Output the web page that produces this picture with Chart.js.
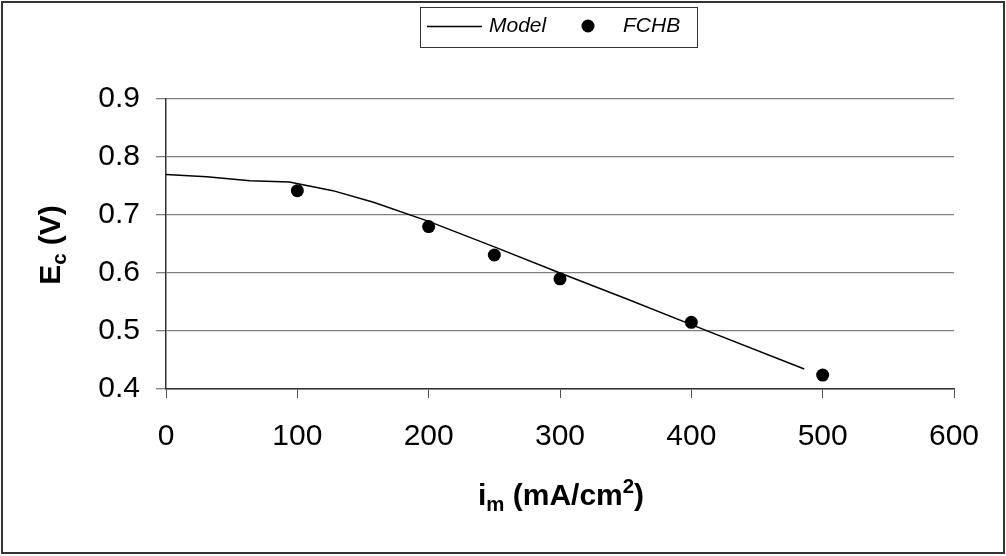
<!DOCTYPE html>
<html>
<head>
<meta charset="utf-8">
<title>Ec vs im</title>
<script src="https://cdn.jsdelivr.net/npm/chart.js@4/dist/chart.umd.min.js"></script>
<style>
  html, body { margin: 0; padding: 0; background: #fff; }
  #wrap { position: relative; width: 1006px; height: 556px; }
  canvas { display: block; }
</style>
</head>
<body>
<div id="wrap"><canvas id="c" width="1006" height="556"></canvas></div>
<script>
// Model curve (current density in mA/cm2, cell voltage in V)
const modelX = [0, 31, 64, 94, 127, 158, 200, 250, 300, 350, 400, 486];
const modelY = [0.770, 0.766, 0.759, 0.757, 0.742, 0.722, 0.689, 0.645, 0.600, 0.556, 0.511, 0.4345];

// Measured FCHB points
const fchbX = [100, 200, 250, 300, 400, 500];
const fchbY = [0.742, 0.680, 0.631, 0.590, 0.515, 0.424];

// Axis ranges and ticks
const xTicks = [0, 100, 200, 300, 400, 500, 600];
const yTicks = [0.4, 0.5, 0.6, 0.7, 0.8, 0.9];

const FONT = '"Liberation Sans", Arial, Helvetica, sans-serif';

const toPoints = (xs, ys) => xs.map((x, i) => ({ x: x, y: ys[i] }));

// Draws a run of bold text pieces with optional sub/superscripts, centred horizontally on 0,
// with the main baseline at y = 0
function drawRich(ctx, parts, size) {
  const pieces = parts.map(p => {
    const s = p.sub || p.sup ? size * 0.68 : size;
    ctx.font = 'bold ' + s + 'px ' + FONT;
    return { t: p.t, s: s, w: ctx.measureText(p.t).width, dy: p.sub ? size * 0.2 : (p.sup ? -size * 0.4 : 0) };
  });
  const total = pieces.reduce((a, p) => a + p.w, 0);
  let x = -total / 2;
  ctx.textBaseline = 'alphabetic';
  ctx.textAlign = 'left';
  pieces.forEach(p => {
    ctx.font = 'bold ' + p.s + 'px ' + FONT;
    ctx.fillText(p.t, x, p.dy);
    x += p.w;
  });
}

const decorations = {
  id: 'decorations',
  afterDraw(chart) {
    const ctx = chart.ctx;
    ctx.save();
    // outer frame
    ctx.strokeStyle = '#333';
    ctx.lineWidth = 2;
    ctx.strokeRect(2, 2, 1002, 551);

    // axis titles
    ctx.fillStyle = '#000';
    ctx.save();
    ctx.translate(561, 505);
    drawRich(ctx, [{ t: 'i' }, { t: 'm', sub: true }, { t: ' (mA/cm' }, { t: '2', sup: true }, { t: ')' }], 30);
    ctx.restore();

    ctx.save();
    ctx.translate(60, 245);
    ctx.rotate(-Math.PI / 2);
    drawRich(ctx, [{ t: 'E' }, { t: 'c', sub: true }, { t: ' (V)' }], 30);
    ctx.restore();

    // legend box
    const ds = chart.data.datasets;
    ctx.lineWidth = 1;
    ctx.strokeStyle = '#333';
    ctx.strokeRect(420.5, 7.5, 277, 40);
    ctx.beginPath();
    ctx.moveTo(427, 26.5);
    ctx.lineTo(482, 26.5);
    ctx.strokeStyle = '#000';
    ctx.lineWidth = 1.5;
    ctx.stroke();
    ctx.font = 'italic 21px ' + FONT;
    ctx.textBaseline = 'middle';
    ctx.textAlign = 'left';
    ctx.fillText(ds[0].label, 489, 26);
    ctx.beginPath();
    ctx.arc(588, 26, 6.5, 0, Math.PI * 2);
    ctx.fill();
    ctx.fillText(ds[1].label, 623, 26);
    ctx.restore();
  }
};

new Chart(document.getElementById('c'), {
  type: 'scatter',
  data: {
    datasets: [
      {
        label: 'Model',
        data: toPoints(modelX, modelY),
        showLine: true,
        borderColor: '#000',
        borderWidth: 1.5,
        pointRadius: 0,
        tension: 0,
        order: 2
      },
      {
        label: 'FCHB',
        data: toPoints(fchbX, fchbY),
        showLine: false,
        backgroundColor: '#000',
        borderColor: '#000',
        pointRadius: 6.5,
        pointBorderWidth: 0,
        order: 1
      }
    ]
  },
  options: {
    responsive: false,
    animation: false,
    devicePixelRatio: 1,
    layout: { padding: { left: 0, right: 52, top: 99, bottom: 0 } },
    plugins: { legend: { display: false }, tooltip: { enabled: false } },
    scales: {
      x: {
        type: 'linear',
        min: xTicks[0],
        max: xTicks[xTicks.length - 1],
        afterBuildTicks: s => { s.ticks = xTicks.map(v => ({ value: v })); },
        afterFit: s => { s.height = 167; },
        grid: { drawOnChartArea: false, drawTicks: true, tickLength: 9, tickColor: '#555', lineWidth: 1 },
        border: { color: '#333', width: 1.5 },
        ticks: { color: '#000', font: { family: FONT, size: 30 }, padding: 21, maxRotation: 0 }
      },
      y: {
        type: 'linear',
        min: yTicks[0],
        max: yTicks[yTicks.length - 1],
        afterBuildTicks: s => { s.ticks = yTicks.map(v => ({ value: v })); },
        afterFit: s => { s.width = 166; },
        grid: { color: '#808080', tickColor: '#808080', tickLength: 10, lineWidth: 1.3 },
        border: { color: '#333', width: 1.5 },
        ticks: { color: '#000', font: { family: FONT, size: 30 }, padding: 16, callback: v => v.toFixed(1) }
      }
    }
  },
  plugins: [decorations]
});
</script>
</body>
</html>
